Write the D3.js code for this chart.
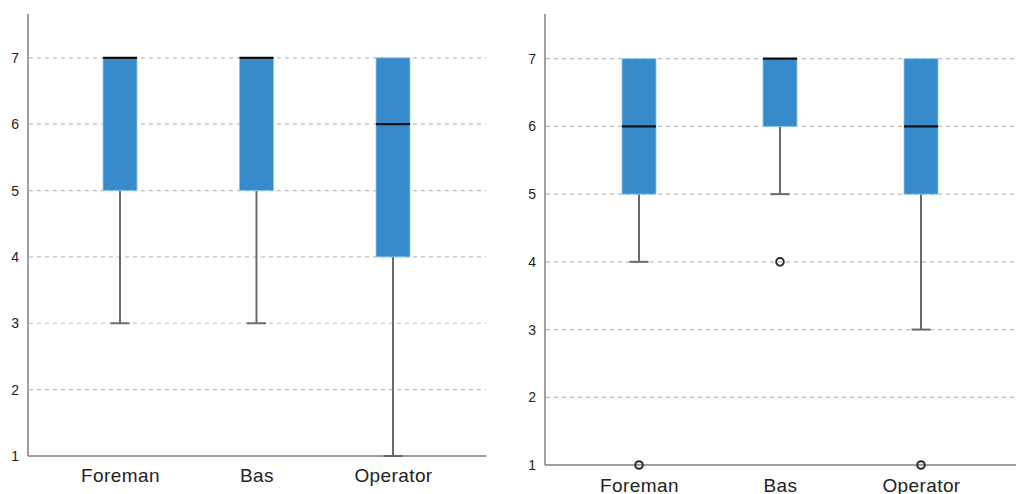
<!DOCTYPE html>
<html>
<head>
<meta charset="utf-8">
<script src="https://cdn.jsdelivr.net/npm/d3@7"></script>
<style>
  html, body { margin: 0; padding: 0; background: #fff; }
  svg { display: block; }
  text { font-family: Arial, "Liberation Sans", sans-serif; fill: #222; }
</style>
</head>
<body>
<svg id="chart" width="1016" height="494"></svg>
<script>
// Categories shared by both panels
const categories = ["Foreman", "Bas", "Operator"];
const tickValues = [1, 2, 3, 4, 5, 6, 7];

// Left panel: box statistics per category
const leftLowWhisker = [3, 3, 1];
const leftQ1 = [5, 5, 4];
const leftMedian = [7, 7, 6];
const leftQ3 = [7, 7, 7];
const leftHighWhisker = [7, 7, 7];
const leftOutliers = [[], [], []];

// Right panel: box statistics per category
const rightLowWhisker = [4, 5, 3];
const rightQ1 = [5, 6, 5];
const rightMedian = [6, 7, 6];
const rightQ3 = [7, 7, 7];
const rightHighWhisker = [7, 7, 7];
const rightOutliers = [[1], [4], [1]];

const svg = d3.select("#chart");

function drawPanel(cfg, stats) {
  const g = svg.append("g");
  const y = d3.scaleLinear().domain([1, 7.66]).range([cfg.bottom, cfg.top]);
  const x = d3.scalePoint().domain(categories).range([cfg.firstCenter, cfg.lastCenter]);

  // dashed gridlines
  g.selectAll("line.grid").data(tickValues.filter(v => v > 1)).enter()
    .append("line")
    .attr("x1", cfg.left + 1).attr("x2", cfg.right)
    .attr("y1", d => y(d)).attr("y2", d => y(d))
    .attr("stroke", "#bdbdbd").attr("stroke-width", 1.2)
    .attr("stroke-dasharray", "4,4");

  // y axis
  const yAxis = d3.axisLeft(y).tickValues(tickValues).tickFormat(d3.format("d"))
    .tickSize(0).tickPadding(cfg.tickPad);
  const ya = g.append("g").attr("transform", `translate(${cfg.left},0)`).call(yAxis);
  ya.select(".domain").attr("stroke", "#808080").attr("stroke-width", 1.5)
    .attr("d", `M0,${cfg.top}V${cfg.bottom}`);
  ya.selectAll("text").style("font-size", "14px").attr("fill", "#222");

  // x axis
  const xa = g.append("g").attr("transform", `translate(0,${cfg.bottom})`)
    .call(d3.axisBottom(x).tickSize(0).tickPadding(cfg.labelPad));
  xa.select(".domain").attr("stroke", "#808080").attr("stroke-width", 1.5)
    .attr("d", `M${cfg.left},0H${cfg.right}`);
  xa.selectAll("text").style("font-size", "19px").style("letter-spacing", "0.4px").attr("fill", "#333");

  const boxW = 34, capW = 19;
  const data = categories.map((c, i) => ({
    c, lo: stats.lo[i], q1: stats.q1[i], med: stats.med[i], q3: stats.q3[i], hi: stats.hi[i], out: stats.out[i]
  }));

  const items = g.selectAll("g.box").data(data).enter().append("g")
    .attr("transform", d => `translate(${x(d.c)},0)`);

  // whiskers
  items.append("line")
    .attr("x1", 0).attr("x2", 0)
    .attr("y1", d => y(d.lo)).attr("y2", d => y(d.q1))
    .attr("stroke", "#6b6b6b").attr("stroke-width", 2);
  items.append("line")
    .attr("x1", 0).attr("x2", 0)
    .attr("y1", d => y(d.q3)).attr("y2", d => y(d.hi))
    .attr("stroke", "#6b6b6b").attr("stroke-width", 2);
  items.filter(d => d.lo < d.q1).append("line")
    .attr("x1", -capW / 2).attr("x2", capW / 2)
    .attr("y1", d => y(d.lo)).attr("y2", d => y(d.lo))
    .attr("stroke", "#6b6b6b").attr("stroke-width", 2);

  // boxes
  items.append("rect")
    .attr("x", -boxW / 2).attr("width", boxW)
    .attr("y", d => y(d.q3)).attr("height", d => y(d.q1) - y(d.q3))
    .attr("fill", "#388bcb").attr("stroke", "#8cc8f0").attr("stroke-width", 0.8);

  // medians
  items.append("line")
    .attr("x1", -boxW / 2).attr("x2", boxW / 2)
    .attr("y1", d => y(d.med)).attr("y2", d => y(d.med))
    .attr("stroke", "#111").attr("stroke-width", 2.2);

  // outliers
  items.selectAll("circle").data(d => d.out).enter().append("circle")
    .attr("cx", 0).attr("cy", v => y(v)).attr("r", 3.8)
    .attr("fill", "none").attr("stroke", "#2a2a2a").attr("stroke-width", 2);
}

drawPanel(
  { left: 28, right: 486, top: 14, bottom: 456, firstCenter: 120, lastCenter: 393, tickPad: 9, labelPad: 13 },
  { lo: leftLowWhisker, q1: leftQ1, med: leftMedian, q3: leftQ3, hi: leftHighWhisker, out: leftOutliers }
);
drawPanel(
  { left: 545, right: 1016, top: 14, bottom: 465, firstCenter: 639, lastCenter: 921, tickPad: 9, labelPad: 14 },
  { lo: rightLowWhisker, q1: rightQ1, med: rightMedian, q3: rightQ3, hi: rightHighWhisker, out: rightOutliers }
);
</script>
</body>
</html>
